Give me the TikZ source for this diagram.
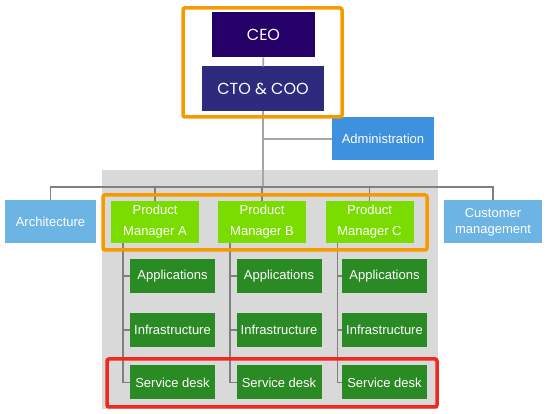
\documentclass[tikz,border=0pt]{standalone}
\usepackage{fontspec}
\setmainfont{Liberation Sans}
\newfontfamily\topfont{Poppins}
\usepackage{tikz}
\usepackage{xcolor}

\definecolor{ceoviolet}{RGB}{36,0,104}
\definecolor{ctoviolet}{RGB}{46,42,126}
\definecolor{admblue}{RGB}{61,145,222}
\definecolor{staffblue}{RGB}{108,180,228}
\definecolor{pmgreen}{RGB}{122,220,0}
\definecolor{teamgreen}{RGB}{42,138,36}
\definecolor{markorange}{RGB}{245,155,0}
\definecolor{markred}{RGB}{240,40,30}
\definecolor{panelgray}{RGB}{217,217,217}

\begin{document}
\begin{tikzpicture}[x=1pt, y=-1pt,
    every node/.style={inner sep=0pt, outer sep=0pt, text=white, align=center, font=\fontsize{13}{21}\selectfont},
    topbox/.style={minimum width=#1, minimum height=45pt, font=\topfont\fontsize{16}{18}\selectfont},
    staffbox/.style={minimum width=#1, minimum height=43pt},
    pmbox/.style={fill=pmgreen, minimum width=88pt, minimum height=42pt},
    teambox/.style={fill=teamgreen, minimum width=85pt, minimum height=34pt},
    topline/.style={draw=gray!70, line width=1.6pt},
    busline/.style={draw=gray, line width=1.1pt},
    markbox/.style={line width=3.5pt, rounded corners=2pt}]
    \useasboundingbox (0,0) rectangle (550,414);
    \fill[panelgray] (102,170) rectangle (438,409);

    \node[topbox=103pt, fill=ceoviolet] (ceo) at (263.5, 35) {CEO};
    \node[topbox=122pt, fill=ctoviolet] (cto) at (263, 89) {CTO \& COO};
    \node[staffbox=102pt, fill=admblue] (adm) at (383, 139) {Administration};
    \node[staffbox=91pt, fill=staffblue] (arch) at (50.5, 222) {Architecture};
    \node[staffbox=98pt, fill=staffblue, font=\fontsize{13}{16}\selectfont] (cust) at (493, 222) {Customer\\management};

    \node[pmbox] (pmA) at (155, 222) {Product\\Manager A};
    \node[pmbox] (pmB) at (262, 222) {Product\\Manager B};
    \node[pmbox] (pmC) at (369.5, 222) {Product\\Manager C};

    \node[teambox] (appA) at (172.5, 276) {Applications};
    \node[teambox] (appB) at (279, 276) {Applications};
    \node[teambox] (appC) at (384.5, 276) {Applications};
    \node[teambox] (infA) at (172.5, 330) {Infrastructure};
    \node[teambox] (infB) at (279, 330) {Infrastructure};
    \node[teambox] (infC) at (384.5, 330) {Infrastructure};
    \node[teambox] (sdA) at (172.5, 382.5) {Service desk};
    \node[teambox] (sdB) at (279, 382.5) {Service desk};
    \node[teambox] (sdC) at (384.5, 382.5) {Service desk};

    % reporting lines
    \coordinate (bus) at (263, 187);
    \draw[topline] (ceo) -- (cto);
    \draw[topline] (cto) -- (bus);
    \draw[topline] (cto.south |- adm.west) -- (adm.west);
    \draw[busline] (bus) -| (arch.north);
    \draw[busline] (bus) -| (pmA.north);
    \draw[busline] (bus) -| (pmB.north);
    \draw[busline] (bus) -| (pmC.north);
    \draw[busline] (bus) -| (cust.north);

    \coordinate (stemA) at ([xshift=12pt]pmA.south west);
    \coordinate (stemB) at ([xshift=12pt]pmB.south west);
    \coordinate (stemC) at ([xshift=12pt]pmC.south west);
    \draw[busline] (stemA) |- (sdA.west);
    \draw[busline] (stemA |- appA.west) -- (appA.west);
    \draw[busline] (stemA |- infA.west) -- (infA.west);
    \draw[busline] (stemB) |- (sdB.west);
    \draw[busline] (stemB |- appB.west) -- (appB.west);
    \draw[busline] (stemB |- infB.west) -- (infB.west);
    \draw[busline] (stemC) |- (sdC.west);
    \draw[busline] (stemC |- appC.west) -- (appC.west);
    \draw[busline] (stemC |- infC.west) -- (infC.west);

    % highlights
    \draw[markbox, markorange] (183, 8) rectangle (342, 117);
    \draw[markbox, markorange] (103, 195) rectangle (427, 250);
    \draw[markbox, markred] (107, 359) rectangle (437, 407);
\end{tikzpicture}
\end{document}
